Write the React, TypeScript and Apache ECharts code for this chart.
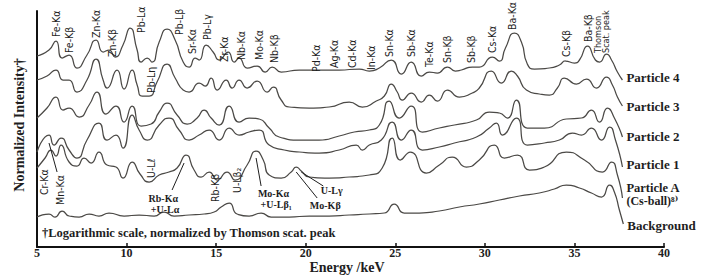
import React, { useEffect, useRef } from "react";
import * as echarts from "echarts";

// Energy axis (keV)
const xMin = 5;
const xMax = 40;
const xInterval = 5;

// Spectra: [energy keV, stacked normalized log-intensity (arb. units)]
const particle4: [number, number][] = [
  [5.0, 191], [5.67, 197], [6.06, 206], [6.4, 189], [6.79, 192], [7.23, 179], [7.79, 192], [8.3, 207],
  [8.69, 195], [9.02, 197], [9.36, 190], [9.8, 202], [10.2, 219], [10.59, 197], [10.81, 185], [11.15, 189],
  [11.42, 185], [11.82, 205], [12.26, 218], [12.71, 207], [13.16, 185], [13.49, 180], [13.83, 189], [14.05, 187],
  [14.44, 202], [14.83, 195], [15.17, 187], [15.67, 195], [16.01, 185], [16.28, 189], [16.73, 179], [17.29, 181],
  [17.74, 175], [18.13, 180], [18.63, 175], [19.64, 177], [20.75, 177], [21.87, 177], [22.99, 178], [23.55, 176],
  [24.11, 179], [24.78, 187], [25.34, 173], [25.89, 185], [26.45, 171], [26.9, 175], [27.35, 174], [27.91, 180],
  [28.35, 176], [28.69, 177], [29.3, 180], [29.69, 180], [30.42, 190], [30.81, 186], [31.15, 199], [31.65, 214],
  [32.04, 205], [32.37, 183], [32.77, 178], [33.6, 179], [34.16, 182], [34.5, 186], [35.0, 184], [35.28, 187],
  [35.73, 201], [36.17, 187], [36.4, 185], [36.79, 193], [37.07, 187], [37.4, 175], [37.68, 167],
];
const particle3: [number, number][] = [
  [5.0, 167], [5.56, 171], [6.06, 177], [6.45, 167], [6.79, 167], [7.23, 155], [7.79, 167], [8.3, 188],
  [8.69, 167], [8.91, 159], [9.47, 177], [9.86, 158], [10.31, 177], [10.59, 162], [10.87, 151], [11.26, 151],
  [11.7, 165], [12.26, 183], [12.71, 169], [13.16, 157], [13.49, 155], [14.05, 164], [14.39, 161], [14.72, 169],
  [15.06, 157], [15.56, 167], [15.89, 159], [16.28, 167], [16.73, 159], [17.29, 166], [17.85, 155], [18.18, 160],
  [18.63, 147], [19.08, 140], [20.2, 139], [21.31, 140], [22.43, 145], [23.16, 140], [23.94, 146], [24.39, 151],
  [24.78, 163], [25.11, 155], [25.39, 147], [25.89, 154], [26.45, 145], [26.9, 152], [27.35, 146], [27.91, 157],
  [28.58, 150], [29.3, 154], [29.69, 159], [30.36, 176], [30.92, 164], [31.48, 176], [31.82, 171], [32.32, 157],
  [33.04, 153], [33.6, 152], [34.05, 159], [34.44, 169], [35.11, 163], [35.67, 168], [36.23, 159], [36.79, 170],
  [37.12, 162], [37.4, 150], [37.68, 141],
];
const particle2: [number, number][] = [
  [5.0, 129], [5.56, 139], [6.06, 150], [6.45, 137], [6.79, 139], [7.35, 130], [7.91, 142], [8.35, 155],
  [8.85, 133], [9.41, 141], [9.86, 125], [10.31, 141], [10.81, 121], [11.37, 123], [11.82, 135], [12.26, 144],
  [12.82, 132], [13.38, 123], [13.94, 129], [14.33, 137], [14.72, 129], [15.17, 122], [15.73, 141], [16.28, 125],
  [16.84, 129], [17.4, 128], [17.96, 119], [18.52, 110], [19.64, 107], [20.75, 107], [21.87, 111], [22.71, 115],
  [23.55, 117], [24.11, 122], [24.66, 146], [25.22, 129], [25.89, 141], [26.51, 115], [27.46, 119], [28.3, 122],
  [29.53, 127], [30.25, 135], [30.81, 134], [31.26, 129], [31.76, 147], [32.37, 119], [33.32, 119], [34.55, 128],
  [35.39, 129], [35.95, 137], [36.4, 125], [36.84, 139], [37.23, 129], [37.68, 110],
];
const particle1: [number, number][] = [
  [5.0, 95], [5.67, 112], [5.95, 102], [6.34, 109], [6.79, 97], [7.23, 89], [7.79, 107], [8.46, 124],
  [8.91, 107], [9.41, 112], [9.8, 99], [10.31, 132], [10.7, 117], [11.15, 107], [11.82, 122], [12.37, 129],
  [12.93, 117], [13.49, 107], [14.05, 112], [14.61, 117], [15.17, 107], [15.73, 119], [16.28, 112], [16.84, 115],
  [17.4, 117], [17.96, 102], [18.8, 97], [19.64, 95], [20.75, 94], [21.87, 97], [22.82, 102], [23.16, 97],
  [23.55, 102], [24.22, 107], [24.83, 125], [25.34, 107], [25.89, 117], [26.51, 97], [27.46, 100], [28.3, 104],
  [29.53, 110], [30.25, 119], [30.64, 124], [30.98, 112], [31.76, 129], [32.37, 102], [33.32, 104], [34.16, 107],
  [34.89, 114], [35.39, 112], [35.95, 119], [36.51, 107], [36.96, 120], [37.29, 107], [37.68, 80],
];
const particleA: [number, number][] = [
  [5.0, 79], [5.45, 89], [5.78, 97], [6.06, 91], [6.34, 102], [6.79, 85], [7.23, 81], [7.63, 89],
  [8.02, 84], [8.46, 95], [8.91, 82], [9.41, 80], [9.8, 69], [10.31, 85], [10.75, 73], [11.26, 65],
  [11.82, 72], [12.37, 75], [12.82, 79], [13.32, 92], [13.77, 77], [14.16, 70], [14.61, 75], [15.06, 67],
  [15.61, 75], [16.06, 67], [16.73, 82], [17.23, 96], [17.63, 87], [17.96, 72], [18.63, 69], [19.19, 75],
  [19.47, 80], [19.75, 76], [20.2, 70], [21.31, 69], [22.43, 70], [23.55, 72], [24.27, 79], [24.83, 109],
  [25.28, 87], [25.84, 95], [26.73, 74], [27.46, 82], [28.18, 90], [28.97, 80], [29.69, 87], [30.53, 102],
  [31.09, 89], [31.82, 92], [32.49, 77], [33.32, 80], [34.55, 95], [35.56, 87], [36.56, 75], [37.07, 85],
  [37.4, 72], [37.68, 49],
];
const background: [number, number][] = [
  [5.0, 30], [5.67, 33], [6.0, 30], [6.4, 36], [6.79, 31], [7.35, 30], [7.91, 33], [8.46, 31],
  [9.02, 34], [9.86, 31], [10.7, 32], [11.54, 31], [12.09, 35], [12.65, 31], [13.49, 32], [14.33, 33],
  [14.89, 35], [15.28, 40], [15.73, 44], [16.17, 33], [16.84, 31], [17.51, 34], [18.07, 30], [19.08, 30],
  [20.2, 31], [21.31, 31], [22.43, 32], [23.55, 33], [24.39, 34], [24.94, 43], [25.5, 34], [26.34, 34],
  [27.46, 36], [28.58, 40], [29.69, 43], [30.81, 47], [31.93, 51], [33.04, 54], [33.88, 58], [34.55, 62],
  [35.28, 59], [35.95, 54], [36.51, 50], [36.96, 62], [37.23, 55], [37.51, 37], [37.73, 23],
];

const spectra = [particle4, particle3, particle2, particle1, particleA, background];
const seriesNames = ["Particle 4", "Particle 3", "Particle 2", "Particle 1", "Particle A", "Background"];

// Series labels at right: [text, energy, level, font size]
const seriesLabels: [string, number, number, number][] = [
  ["Particle 4", 37.9, 170, 13],
  ["Particle 3", 37.9, 141, 13],
  ["Particle 2", 37.9, 111, 13],
  ["Particle 1", 37.9, 83, 13],
  ["Particle A", 37.9, 59, 12.5],
  ["(Cs-ball)⁸⁾", 37.9, 46, 12],
  ["Background", 37.95, 22, 13],
];

// Vertical peak labels: [text, energy, level of text foot]
const peakLabels: [string, number, number][] = [
  ["Fe-Kα", 6.06, 210], ["Fe-Kβ", 6.79, 194], ["Zn-Kα", 8.3, 209], ["Zn-Kβ", 9.19, 190],
  ["Pb-Lα", 10.81, 214], ["Pb-Lη", 11.37, 154], ["Pb-Lβ", 12.93, 212], ["Sr-Kα", 13.66, 193],
  ["Pb-Lγ", 14.5, 207], ["Zr-Kα", 15.45, 185], ["Nb-Kα", 16.4, 187], ["Mo-Kα", 17.4, 187],
  ["Nb-Kβ", 18.24, 184], ["Pd-Kα", 20.59, 175], ["Ag-Kα", 21.59, 179], ["Cd-Kα", 22.6, 179],
  ["In-Kα", 23.66, 177], ["Sn-Kα", 24.66, 190], ["Sb-Kα", 25.89, 190], ["Te-Kα", 26.9, 180],
  ["Sn-Kβ", 27.91, 184], ["Sb-Kβ", 29.25, 184], ["Cs-Kα", 30.42, 194], ["Ba-Kα", 31.54, 217],
  ["Cs-Kβ", 34.55, 190], ["Ba-Kβ", 35.73, 205], ["Thomson\nScat. peak", 36.56, 194],
  ["Cr-Kα", 5.39, 52], ["Mn-Kα", 6.28, 42], ["U-Lℓ", 11.37, 69], ["Rb-Kβ", 14.94, 45], ["U-Lβ₂", 16.17, 54],
];

// Horizontal annotation labels: [text, energy, level (centre)]
const noteLabels: [string, number, number][] = [
  ["Rb-Kα", 12.05, 49],
  ["+U-Lα", 12.15, 38],
  ["Mo-Kα", 18.2, 54],
  ["+U-Lβ₁", 18.35, 43],
  ["U-Lγ", 21.45, 57],
  ["Mo-Kβ", 21.09, 42],
];

// Leader lines: [e1, v1, e2, v2]
const leaders: [number, number, number, number][] = [
  [5.67, 104, 6.12, 75],
  [12.54, 57, 13.21, 84],
  [17.23, 89, 17.51, 61],
  [19.47, 75, 20.64, 49],
  [19.75, 75, 20.98, 61],
];

const footnote = "†Logarithmic scale, normalized by Thomson scat. peak";

const LINE = "#4b4946";
const INK = "#1e1e1e";
const SERIF = "'Liberation Serif', 'Times New Roman', 'DejaVu Serif', serif";
const NARROW = "'Liberation Sans Narrow', 'DejaVu Sans Condensed', 'Liberation Sans', sans-serif";

export default function App() {
  const ref = useRef<HTMLDivElement>(null);
  useEffect(() => {
    const chart = echarts.init(ref.current!, null, { renderer: "svg" });
    chart.setOption({
      animation: false,
      backgroundColor: "#ffffff",
      grid: { left: 37, right: 42, top: 11, bottom: 28, containLabel: false },
      xAxis: {
        type: "value",
        min: xMin,
        max: xMax,
        interval: xInterval,
        axisLine: { show: true, lineStyle: { color: "#111", width: 2 } },
        axisTick: { show: true, inside: true, length: 4, lineStyle: { color: "#111", width: 1.5 } },
        axisLabel: { color: INK, fontFamily: SERIF, fontWeight: "bold", fontSize: 12, margin: 0, lineHeight: 12 },
        splitLine: { show: false },
      },
      yAxis: {
        type: "value",
        min: 0,
        max: 236,
        axisLine: { show: true, lineStyle: { color: "#111", width: 2 } },
        axisTick: { show: false },
        axisLabel: { show: false },
        splitLine: { show: false },
      },
      series: spectra.map((d, i) => ({
        type: "line",
        name: seriesNames[i],
        data: d,
        smooth: 0.6,
        showSymbol: false,
        lineStyle: { color: LINE, width: 1.25 },
        z: 2,
      })),
    });

    const px = (e: number, v: number) => chart.convertToPixel({ gridIndex: 0 }, [e, v]) as number[];
    const g: any[] = [];
    peakLabels.forEach(([t, e, v]) => {
      const [x, y] = px(e, v);
      g.push({
        type: "text", x, y, rotation: Math.PI / 2, z: 10,
        style: {
          text: t, fill: INK, fontFamily: NARROW, fontSize: t.includes("\n") ? 9 : 10.5,
          lineHeight: 8, align: "left", verticalAlign: "middle",
        },
      });
    });
    noteLabels.forEach(([t, e, v]) => {
      const [x, y] = px(e, v);
      g.push({
        type: "text", x, y, z: 10,
        style: {
          text: t, fill: INK, fontFamily: SERIF, fontWeight: "bold", fontSize: 10,
          align: "center", verticalAlign: "middle",
        },
      });
    });
    leaders.forEach(([e1, v1, e2, v2]) => {
      const [x1, y1] = px(e1, v1);
      const [x2, y2] = px(e2, v2);
      g.push({ type: "line", z: 10, shape: { x1, y1, x2, y2 }, style: { stroke: INK, lineWidth: 1 } });
    });
    seriesLabels.forEach(([t, e, v, fs]) => {
      const [x, y] = px(e, v);
      g.push({
        type: "text", x, y, z: 10,
        style: {
          text: t, fill: INK, fontFamily: SERIF, fontWeight: "bold",
          fontSize: fs, align: "left", verticalAlign: "middle",
        },
      });
    });
    const [fx, fy] = px(5.28, 14);
    g.push({
      type: "text", x: fx, y: fy, z: 10,
      style: { text: footnote, fill: INK, fontFamily: SERIF, fontWeight: "bold", fontSize: 12.5, align: "left", verticalAlign: "middle" },
    });
    g.push({
      type: "text", x: 347, y: 267, z: 10,
      style: { text: "Energy /keV", fill: INK, fontFamily: SERIF, fontWeight: "bold", fontSize: 14, lineHeight: 14, align: "center", verticalAlign: "middle" },
    });
    g.push({
      type: "text", x: 19, y: 125, rotation: Math.PI / 2, z: 10,
      style: { text: "Normalized Intensity†", fill: INK, fontFamily: SERIF, fontWeight: "bold", fontSize: 14, align: "center", verticalAlign: "middle" },
    });
    chart.setOption({ graphic: g });
    return () => chart.dispose();
  }, []);
  return (
    <div
      ref={ref}
      style={{ position: "fixed", left: 0, top: 0, width: 706, height: 275, background: "#fff" }}
    />
  );
}
